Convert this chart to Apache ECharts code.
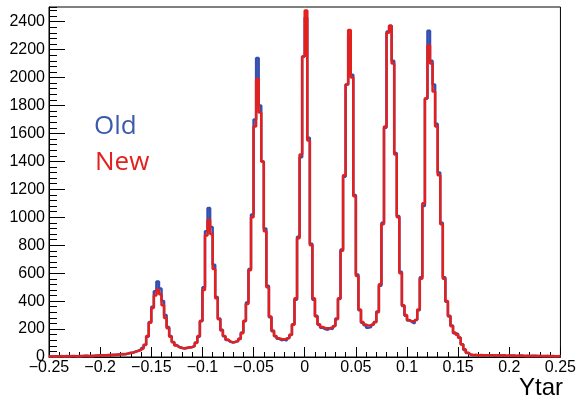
<!DOCTYPE html>
<html><head><meta charset="utf-8">
<script src="https://cdn.jsdelivr.net/npm/echarts@6/dist/echarts.min.js"></script>
<style>html,body{margin:0;padding:0;background:#fff}#c{width:579px;height:400px}</style>
</head><body><div id="c"></div>
<script>
// Histogram binning (Ytar): 200 bins from -0.25 to 0.25
const binLow = -0.25;
const binWidth = 0.0025;

// "New" histogram counts per bin
const newCounts = [
  4,6,3,5,7,4,6,5,8,6,
  5,7,6,9,7,8,6,10,9,11,
  12,11,14,13,16,15,18,20,19,22,
  26,28,33,38,44,52,62,85,150,245,
  350,440,482,450,370,280,205,145,105,82,
  70,64,62,66,68,72,80,100,150,260,
  480,870,980,880,630,420,270,190,150,125,
  112,105,108,115,130,170,260,380,620,1000,
  1650,1990,1750,1400,900,500,290,190,150,135,
  128,126,130,138,160,230,420,850,1450,2150,
  2480,1550,800,420,290,235,215,208,205,207,
  212,225,270,420,760,1300,1950,2340,2000,1150,
  580,340,250,232,225,228,235,250,320,520,
  950,1650,2320,2370,2100,1450,1000,600,370,300,
  265,255,258,270,340,560,1100,1850,2230,2100,
  1900,1650,1300,950,560,400,290,220,175,160,
  140,90,55,30,18,15,14,13,14,12,
  13,11,12,12,10,11,10,12,9,10,
  9,11,8,9,10,8,9,7,8,9,
  7,8,6,7,8,6,7,5,6,7
];

// "Old" histogram counts per bin
const oldCounts = [
  5,4,6,4,6,5,7,4,6,8,
  6,5,8,7,9,6,9,8,11,10,
  11,13,12,15,14,17,16,19,21,20,
  24,30,31,40,46,50,65,88,145,250,
  360,470,540,490,400,300,215,150,108,85,
  72,66,60,64,70,70,78,104,145,255,
  500,900,1067,930,660,430,275,195,148,122,
  108,103,110,112,128,175,255,390,630,1020,
  1700,2140,1800,1400,920,510,285,185,148,130,
  120,125,118,135,158,235,410,860,1430,2150,
  2430,1570,810,410,295,230,210,200,195,205,
  200,222,275,415,770,1290,1950,2300,2020,1160,
  590,335,245,228,210,215,230,248,325,510,
  960,1640,2330,2370,2120,1460,1010,610,365,295,
  262,250,240,265,335,570,1080,1850,2335,2120,
  1950,1670,1320,960,570,395,295,225,170,165,
  138,92,50,28,16,13,15,12,13,11,
  12,10,13,11,9,12,10,11,8,9,
  10,9,8,10,9,7,8,8,9,7,
  8,7,7,6,7,5,6,6,5,6
];

const seriesNames = ['Old', 'New'];
const axisTitle = 'Ytar';

function toSteps(counts) {
  const pts = [[binLow, counts[0]]];
  counts.forEach((c, i) => pts.push([+(binLow + binWidth * (i + 0.5)).toFixed(6), c]));
  pts.push([+(binLow + binWidth * counts.length).toFixed(6), counts[counts.length - 1]]);
  return pts;
}

const FONT = '"Liberation Sans", Arial, Helvetica, sans-serif';
const chart = echarts.init(document.getElementById('c'), null, {renderer: 'canvas'});
chart.setOption({
  animation: false,
  backgroundColor: '#fff',
  grid: {left: 49, right: 16, top: 7, bottom: 43, show: true, borderColor: '#000', borderWidth: 1},
  xAxis: [
    {type: 'value', min: -0.25, max: 0.25, interval: 0.05,
     axisLine: {show: true, onZero: false, lineStyle: {color: '#000', width: 1}},
     axisTick: {show: true, inside: true, length: 10, lineStyle: {color: '#000'}},
     splitLine: {show: false},
     axisLabel: {color: '#000', fontFamily: FONT, fontSize: 16, margin: 3,
       formatter: v => String(+v.toFixed(3)).replace('-', '\u2212')}},
    {type: 'value', min: -0.25, max: 0.25, interval: 0.01, position: 'bottom',
     axisLine: {show: false, onZero: false}, splitLine: {show: false}, axisLabel: {show: false},
     axisTick: {show: true, inside: true, length: 5, lineStyle: {color: '#000'}}}
  ],
  yAxis: [
    {type: 'value', min: 0, max: 2505, interval: 200, position: 'left',
     axisLine: {show: true, onZero: false, lineStyle: {color: '#000', width: 1}},
     axisTick: {show: true, inside: true, length: 16, lineStyle: {color: '#000'}},
     splitLine: {show: false},
     axisLabel: {color: '#000', fontFamily: FONT, fontSize: 16, margin: 4, showMaxLabel: false,
       formatter: v => String(Math.round(v))}},
    {type: 'value', min: 0, max: 2505, interval: 40, position: 'left',
     axisLine: {show: false, onZero: false}, splitLine: {show: false}, axisLabel: {show: false},
     axisTick: {show: true, inside: true, length: 8, lineStyle: {color: '#000'}}}
  ],
  series: [
    {name: seriesNames[0], type: 'line', step: 'middle', showSymbol: false, data: toSteps(oldCounts),
     lineStyle: {color: '#3550b0', width: 2.5}, z: 2},
    {name: seriesNames[1], type: 'line', step: 'middle', showSymbol: false, data: toSteps(newCounts),
     lineStyle: {color: '#e3201e', width: 2.5}, z: 3}
  ],
  graphic: [
    {type: 'text', left: 94, top: 114, style: {text: seriesNames[0], fill: '#3a5aad', font: '26px "Open Sans", sans-serif'}},
    {type: 'text', left: 95, top: 150, style: {text: seriesNames[1], fill: '#e3201e', font: '26px "Open Sans", sans-serif'}},
    {type: 'text', right: 16, top: 376, style: {text: axisTitle, fill: '#000', font: '24px ' + FONT}}
  ]
});
</script>
</body></html>
